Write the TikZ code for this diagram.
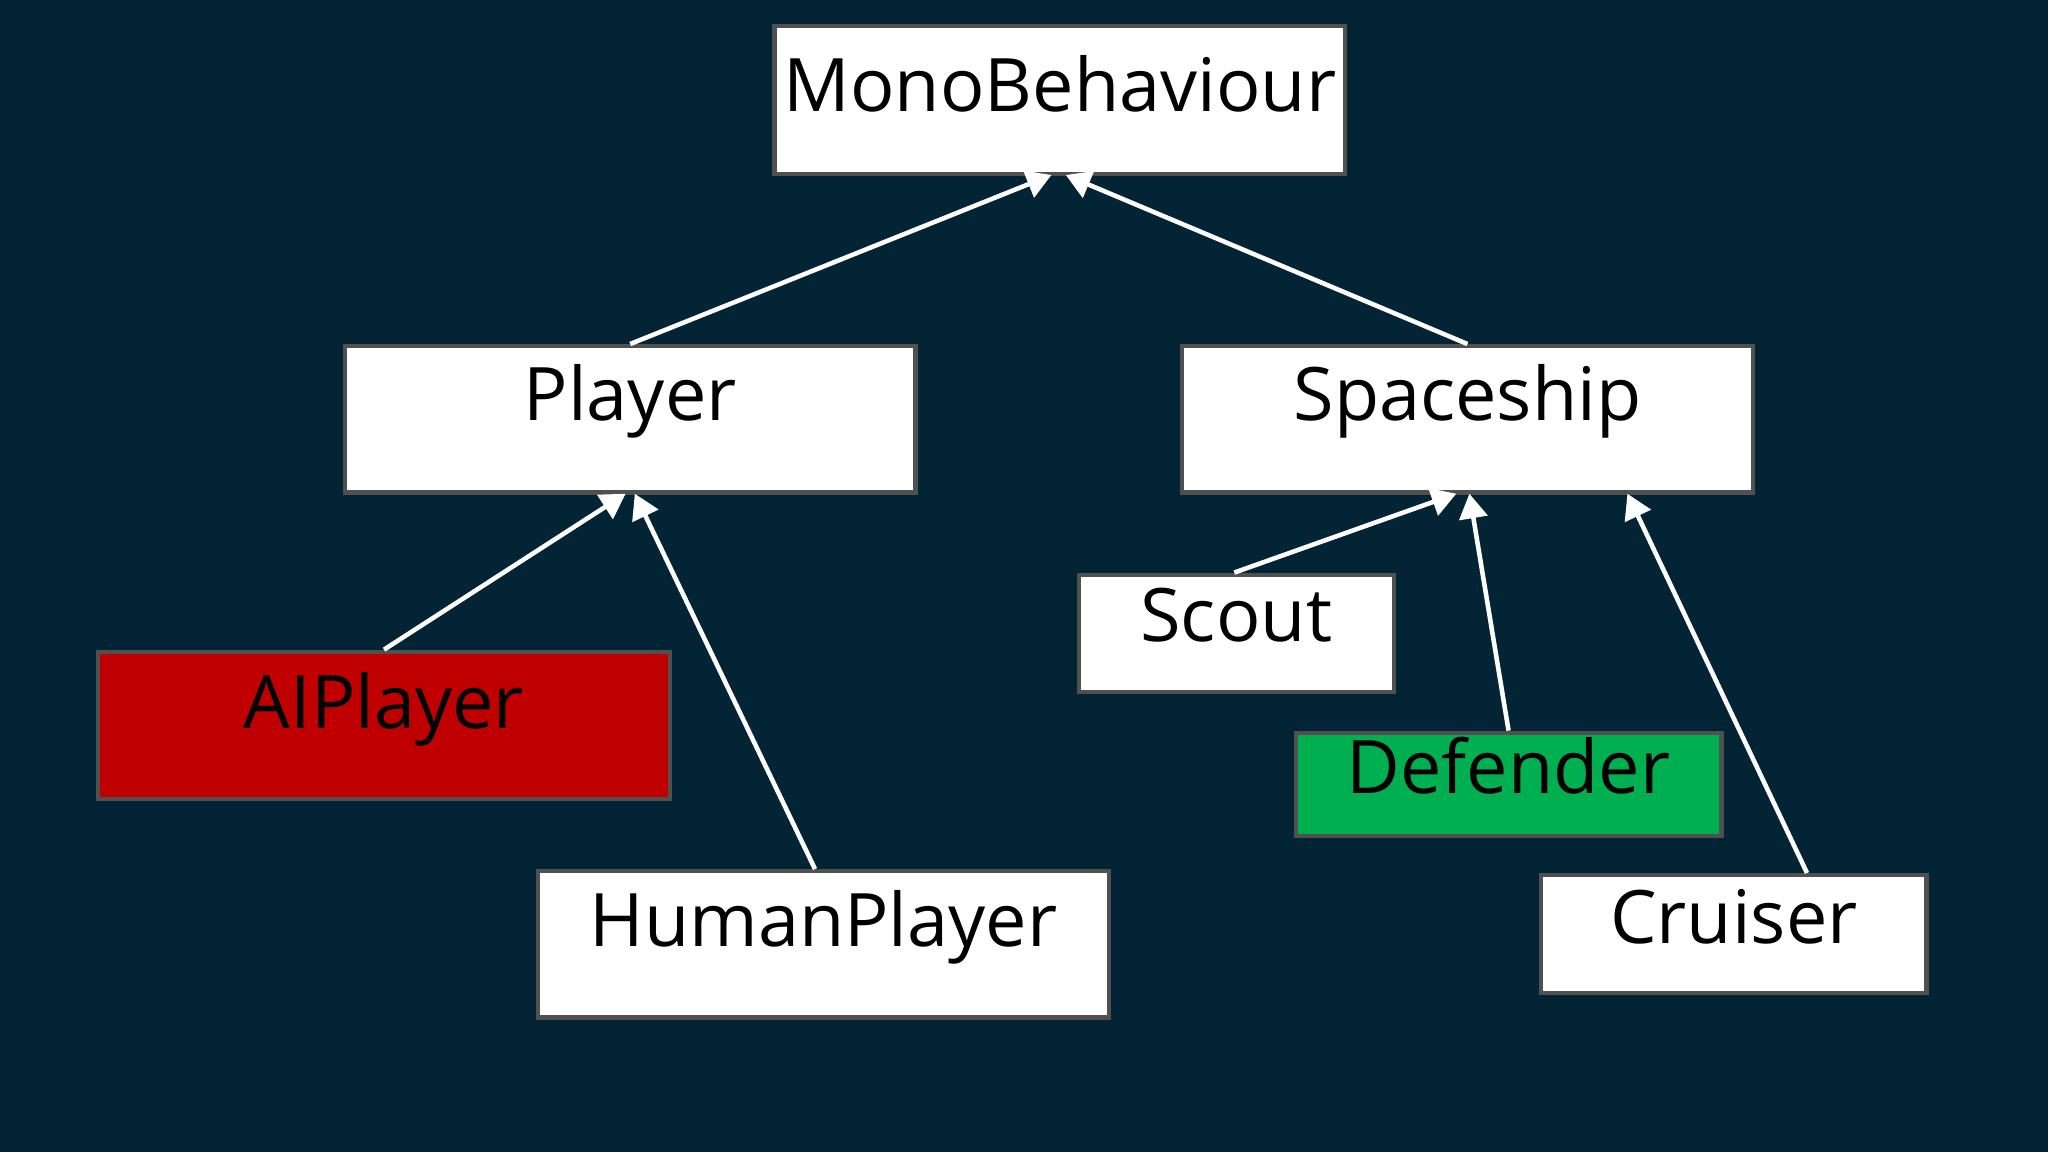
\documentclass[tikz,border=0pt]{standalone}
\usepackage{fontspec}
\setmainfont{Open Sans}
\usetikzlibrary{arrows.meta}
\definecolor{bgcolor}{RGB}{2,36,52}
\definecolor{aicolor}{RGB}{192,0,0}
\definecolor{defcolor}{RGB}{0,176,80}
\definecolor{edgecolor}{RGB}{80,80,80}
\tikzset{
  box/.style={draw=edgecolor, line width=1.2pt, fill=white, inner sep=0pt},
  classname/.style={font=\fontsize{21}{25}\selectfont, text=black},
  inherit/.style={draw=white, line width=1.3pt, -{Triangle[length=7pt,width=8pt,fill=white]}}
}
\begin{document}
\begin{tikzpicture}[x=0.013061cm, y=-0.013061cm]
  \fill[bgcolor] (0,0) rectangle (1568,882);
  \useasboundingbox (0,0) rectangle (1568,882);
  % class boxes
  \node[box, minimum width=437*0.013061cm, minimum height=113*0.013061cm] (mono) at (811.5,76.5) {};
  \node[classname] (monotext) at (811.5,64) {MonoBehaviour};
  \node[box, minimum width=437*0.013061cm, minimum height=112*0.013061cm] (player) at (482.5,321) {};
  \node[classname] (playertext) at (482.5,307) {Player};
  \node[box, minimum width=437*0.013061cm, minimum height=112*0.013061cm] (ship) at (1123.5,321) {};
  \node[classname] (shiptext) at (1123.5,307) {Spaceship};
  \node[box, fill=aicolor, minimum width=438*0.013061cm, minimum height=113*0.013061cm] (ai) at (294,555.5) {};
  \node[classname] (aitext) at (294,543) {AIPlayer};
  \node[box, minimum width=437*0.013061cm, minimum height=112*0.013061cm] (human) at (630.5,723) {};
  \node[classname] (humantext) at (630.5,710) {HumanPlayer};
  \node[box, minimum width=241*0.013061cm, minimum height=90*0.013061cm] (scout) at (946.5,485) {};
  \node[classname] (scouttext) at (946.5,471) {Scout};
  \node[box, fill=defcolor, minimum width=326*0.013061cm, minimum height=79*0.013061cm] (defender) at (1155,600.5) {};
  \node[classname] (defendertext) at (1155,586) {Defender};
  \node[box, minimum width=295*0.013061cm, minimum height=90*0.013061cm] (cruiser) at (1327.5,715) {};
  \node[classname] (cruisertext) at (1327.5,702) {Cruiser};
  % arrow ends
  \coordinate (monoL) at (805,134);
  \coordinate (monoR) at (816,134);
  \coordinate (playerL) at (479,378);
  \coordinate (playerR) at (486,378);
  \coordinate (shipA) at (1115,378);
  \coordinate (shipB) at (1125,378);
  \coordinate (shipC) at (1246,378);
  % inheritance arrows
  \draw[inherit] (player.north) -- (monoL);
  \draw[inherit] (ship.north) -- (monoR);
  \draw[inherit] (ai.north) -- (playerL);
  \draw[inherit] ([xshift=-6.5*0.013061cm]human.north) -- (playerR);
  \draw[inherit] ([xshift=-1.5*0.013061cm]scout.north) -- (shipA);
  \draw[inherit] (defender.north) -- (shipB);
  \draw[inherit] ([xshift=56*0.013061cm]cruiser.north) -- (shipC);
\end{tikzpicture}
\end{document}
